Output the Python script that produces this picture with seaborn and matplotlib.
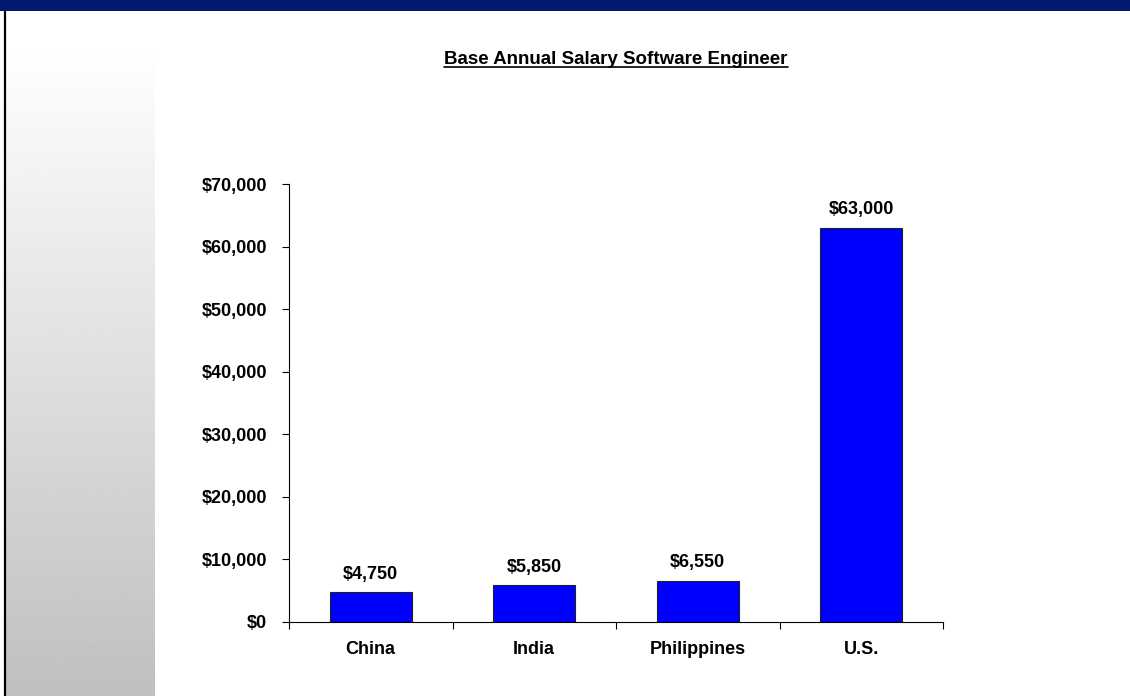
import numpy as np
import matplotlib
matplotlib.use("Agg")
import matplotlib.pyplot as plt
from matplotlib.patches import Rectangle
from matplotlib.lines import Line2D
from matplotlib.ticker import FuncFormatter, FixedLocator
import seaborn as sns

# Salary data
countries = ["China", "India", "Philippines", "U.S."]
salaries = [4750, 5850, 6550, 63000]
y_ticks = [0, 10000, 20000, 30000, 40000, 50000, 60000, 70000]
title = "Base Annual Salary Software Engineer"

sns.set_style("white")
plt.rcParams["font.family"] = ["Liberation Sans", "DejaVu Sans"]
plt.rcParams["font.weight"] = "bold"
plt.rcParams["text.color"] = "black"
plt.rcParams["xtick.color"] = "black"
plt.rcParams["ytick.color"] = "black"
plt.rcParams["xtick.labelcolor"] = "black"
plt.rcParams["ytick.labelcolor"] = "black"

W, H = 1130, 696
fig = plt.figure(figsize=(W / 100, H / 100), dpi=100)
fig.patch.set_facecolor("white")

# Slide decoration: navy header band, left rule and grey gradient panel
fig.add_artist(Rectangle((0, 1 - 11 / H), 1, 11 / H, transform=fig.transFigure,
                         facecolor="#001a70", edgecolor="none", zorder=0))
grad_ax = fig.add_axes([6 / W, 0, 149 / W, 650 / H])
grad = np.linspace(1.0, 0.75, 256).reshape(-1, 1)
grad_ax.imshow(grad, aspect="auto", cmap="gray", vmin=0, vmax=1,
               extent=[0, 1, 0, 1], interpolation="bilinear")
grad_ax.set_axis_off()
fig.add_artist(Line2D([5 / W, 5 / W], [0, 1 - 11 / H], transform=fig.transFigure,
                      color="black", linewidth=1.6))

# Chart area
ax = fig.add_axes([289 / W, 74 / H, 654 / W, 438 / H])
sns.barplot(x=countries, y=salaries, ax=ax, color="#0000ff", saturation=1,
            edgecolor="#222222", linewidth=0.8, width=0.5)

ax.set_xlim(-0.5, len(countries) - 0.5)
ax.set_ylim(0, 70000)
ax.yaxis.set_major_locator(FixedLocator(y_ticks))
ax.yaxis.set_major_formatter(FuncFormatter(lambda v, p: f"${v:,.0f}"))
ax.set_xlabel("")
ax.set_ylabel("")

for s in ["top", "right"]:
    ax.spines[s].set_visible(False)
for s in ["left", "bottom"]:
    ax.spines[s].set_color("black")
    ax.spines[s].set_linewidth(0.8)

# Category labels at centres, tick marks at category boundaries
ax.set_xticks(range(len(countries)))
ax.set_xticklabels(countries)
ax.set_xticks(np.arange(-0.5, len(countries), 1.0), minor=True)
ax.tick_params(axis="x", which="major", length=0, pad=14, labelsize=13)
ax.tick_params(axis="x", which="minor", length=5, width=0.8, direction="out",
               color="black", bottom=True)
ax.tick_params(axis="y", which="major", length=5, width=0.8, direction="out",
               color="black", left=True, pad=11, labelsize=13)
for lab in ax.get_xticklabels() + ax.get_yticklabels():
    lab.set_fontweight("bold")
    lab.set_color("black")

ax.bar_label(ax.containers[0], labels=[f"${v:,.0f}" for v in salaries],
             padding=7, fontsize=13, fontweight="bold", color="black")

# Underlined title centred over the plot area
cx = (289 + 654 / 2) / W
t = fig.text(cx, 1 - 59 / H, title, ha="center", va="center",
             fontsize=13.5, fontweight="bold", color="black")
fig.canvas.draw()
bb = t.get_window_extent(fig.canvas.get_renderer())
fig.add_artist(Line2D([bb.x0 / W, bb.x1 / W], [(H - 67) / H, (H - 67) / H],
                      transform=fig.transFigure, color="black", linewidth=1.2))

fig.savefig("out.png", dpi=100)
